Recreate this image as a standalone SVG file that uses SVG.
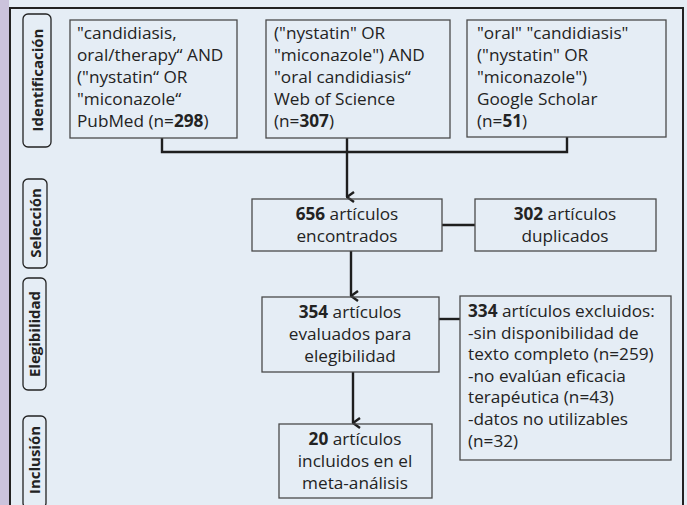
<svg xmlns="http://www.w3.org/2000/svg" width="687" height="505" viewBox="0 0 687 505">
  <style>
    .box { fill: none; stroke: #4a4a4a; stroke-width: 1.3; }
    .pill { fill: none; stroke: #222; stroke-width: 1.3; }
    .txt { font-family: "Open Sans", "Noto Sans", sans-serif; font-size: 17.2px; fill: #232323; }
    .c { text-anchor: middle; }
    .lab { font-family: "Open Sans", "Noto Sans", sans-serif; font-size: 15px; font-weight: bold; fill: #222; text-anchor: middle; }
    .wire { fill: none; stroke: #1e1e1e; stroke-width: 2.4; }
    .b { font-weight: bold; }
  </style>
  <defs>
    <marker id="arrow" viewBox="0 0 12 12" refX="6" refY="11" markerWidth="12" markerHeight="12" markerUnits="userSpaceOnUse" orient="auto-start-reverse">
      <polyline points="1,4 6,11 11,4" fill="none" stroke="#1e1e1e" stroke-width="2.4"/>
    </marker>
  </defs>

  <!-- background -->
  <rect x="0" y="0" width="687" height="505" fill="#e5edf5"/>
  <rect x="0" y="0" width="9" height="505" fill="#cbc3dc"/>
  <rect x="10" y="8" width="673" height="510" fill="none" stroke="#222" stroke-width="2"/>

  <!-- stage labels -->
  <g id="stage-identificacion">
    <rect class="pill" x="23" y="14" width="28" height="133" rx="5"/>
    <text class="lab" transform="translate(42.5,80) rotate(-90)">Identificación</text>
  </g>
  <g id="stage-seleccion">
    <rect class="pill" x="23" y="179" width="24" height="89" rx="5"/>
    <text class="lab" transform="translate(40.5,223) rotate(-90)">Selección</text>
  </g>
  <g id="stage-elegibilidad">
    <rect class="pill" x="23" y="278" width="23" height="112" rx="5"/>
    <text class="lab" transform="translate(40,334) rotate(-90)">Elegibilidad</text>
  </g>
  <g id="stage-inclusion">
    <rect class="pill" x="23" y="416" width="23" height="92" rx="5"/>
    <text class="lab" transform="translate(40,460) rotate(-90)">Inclusión</text>
  </g>

  <!-- connectors -->
  <g id="connectors">
    <polyline class="wire" points="162,138 162,152 567,152 567,137"/>
    <line class="wire" x1="347" y1="138" x2="347" y2="197" marker-end="url(#arrow)"/>
    <line class="wire" x1="442" y1="225" x2="475" y2="225"/>
    <line class="wire" x1="351" y1="251" x2="351" y2="296" marker-end="url(#arrow)"/>
    <line class="wire" x1="439" y1="319" x2="460" y2="319"/>
    <line class="wire" x1="353" y1="372" x2="353" y2="423" marker-end="url(#arrow)"/>
  </g>

  <!-- search sources -->
  <g id="pubmed">
    <rect class="box" x="70" y="20" width="167" height="118"/>
    <text class="txt" x="77" y="39">"candidiasis,</text>
    <text class="txt" x="77" y="61">oral/therapy“ AND</text>
    <text class="txt" x="77" y="83">("nystatin“ OR</text>
    <text class="txt" x="77" y="105">"miconazole“</text>
    <text class="txt" x="77" y="127">PubMed (n=<tspan class="b">298</tspan>)</text>
  </g>
  <g id="wos">
    <rect class="box" x="266" y="20" width="184" height="118"/>
    <text class="txt" x="274" y="39">("nystatin" OR</text>
    <text class="txt" x="274" y="61">"miconazole") AND</text>
    <text class="txt" x="274" y="83">"oral candidiasis“</text>
    <text class="txt" x="274" y="105">Web of Science</text>
    <text class="txt" x="274" y="127">(n=<tspan class="b">307</tspan>)</text>
  </g>
  <g id="scholar">
    <rect class="box" x="467" y="20" width="199" height="117"/>
    <text class="txt" x="477" y="39">"oral" "candidiasis"</text>
    <text class="txt" x="477" y="61">("nystatin" OR</text>
    <text class="txt" x="477" y="83">"miconazole")</text>
    <text class="txt" x="477" y="105">Google Scholar</text>
    <text class="txt" x="477" y="127">(n=<tspan class="b">51</tspan>)</text>
  </g>

  <!-- screening -->
  <g id="found">
    <rect class="box" x="252" y="199" width="190" height="52"/>
    <text class="txt c" x="347" y="220"><tspan class="b">656</tspan> artículos</text>
    <text class="txt c" x="347" y="242">encontrados</text>
  </g>
  <g id="duplicates">
    <rect class="box" x="475" y="199" width="181" height="52"/>
    <text class="txt c" x="565" y="220"><tspan class="b">302</tspan> artículos</text>
    <text class="txt c" x="565" y="242">duplicados</text>
  </g>

  <!-- eligibility -->
  <g id="assessed">
    <rect class="box" x="262" y="297" width="177" height="75"/>
    <text class="txt c" x="350" y="318"><tspan class="b">354</tspan> artículos</text>
    <text class="txt c" x="350" y="340">evaluados para</text>
    <text class="txt c" x="350" y="362">elegibilidad</text>
  </g>
  <g id="excluded">
    <rect class="box" x="460" y="296" width="211" height="164"/>
    <text class="txt" x="468" y="317"><tspan class="b">334</tspan> artículos excluidos:</text>
    <text class="txt" x="468" y="338.6">-sin disponibilidad de</text>
    <text class="txt" x="468" y="360.2">texto completo (n=259)</text>
    <text class="txt" x="468" y="381.8">-no evalúan eficacia</text>
    <text class="txt" x="468" y="403.4">terapéutica (n=43)</text>
    <text class="txt" x="468" y="425">-datos no utilizables</text>
    <text class="txt" x="468" y="446.6">(n=32)</text>
  </g>

  <!-- inclusion -->
  <g id="included">
    <rect class="box" x="279" y="424" width="153" height="74"/>
    <text class="txt c" x="355" y="445"><tspan class="b">20</tspan> artículos</text>
    <text class="txt c" x="355" y="467">incluidos en el</text>
    <text class="txt c" x="355" y="489">meta-análisis</text>
  </g>
</svg>
